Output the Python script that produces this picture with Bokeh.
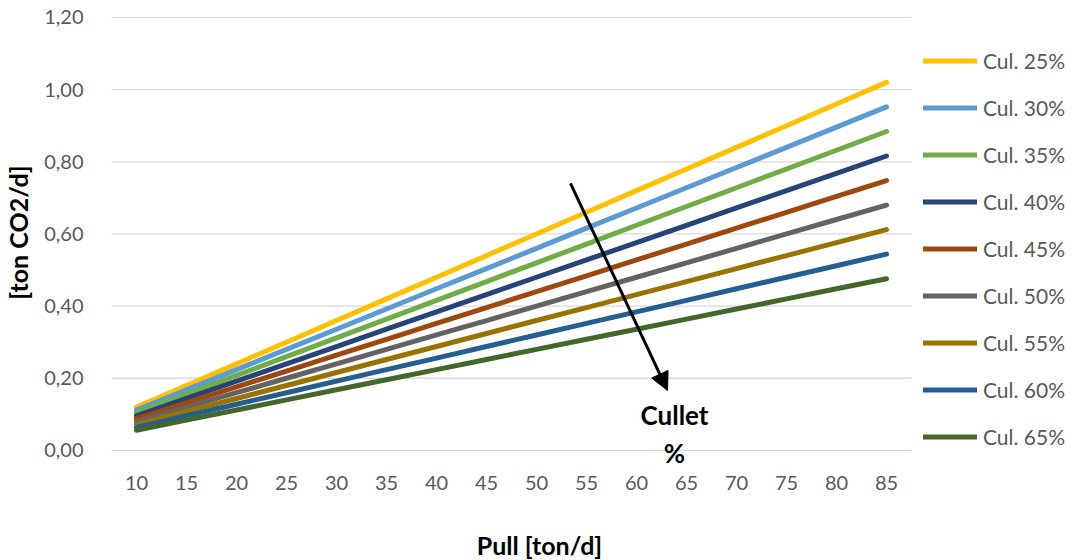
from bokeh.plotting import figure
from bokeh.layouts import column
from bokeh.models import (Range1d, FixedTicker, Legend, LegendItem, Arrow, NormalHead, Label)
from bokeh.embed import file_html
from bokeh.resources import INLINE

pull = [10, 15, 20, 25, 30, 35, 40, 45, 50, 55, 60, 65, 70, 75, 80, 85]

cul_25 = [0.120, 0.180, 0.240, 0.300, 0.360, 0.420, 0.480, 0.540, 0.600, 0.660, 0.720, 0.780, 0.840, 0.900, 0.960, 1.020]
cul_30 = [0.112, 0.168, 0.224, 0.280, 0.336, 0.392, 0.448, 0.504, 0.560, 0.616, 0.672, 0.728, 0.784, 0.840, 0.896, 0.952]
cul_35 = [0.104, 0.156, 0.208, 0.260, 0.312, 0.364, 0.416, 0.468, 0.520, 0.572, 0.624, 0.676, 0.728, 0.780, 0.832, 0.884]
cul_40 = [0.096, 0.144, 0.192, 0.240, 0.288, 0.336, 0.384, 0.432, 0.480, 0.528, 0.576, 0.624, 0.672, 0.720, 0.768, 0.816]
cul_45 = [0.088, 0.132, 0.176, 0.220, 0.264, 0.308, 0.352, 0.396, 0.440, 0.484, 0.528, 0.572, 0.616, 0.660, 0.704, 0.748]
cul_50 = [0.080, 0.120, 0.160, 0.200, 0.240, 0.280, 0.320, 0.360, 0.400, 0.440, 0.480, 0.520, 0.560, 0.600, 0.640, 0.680]
cul_55 = [0.072, 0.108, 0.144, 0.180, 0.216, 0.252, 0.288, 0.324, 0.360, 0.396, 0.432, 0.468, 0.504, 0.540, 0.576, 0.612]
cul_60 = [0.064, 0.096, 0.128, 0.160, 0.192, 0.224, 0.256, 0.288, 0.320, 0.352, 0.384, 0.416, 0.448, 0.480, 0.512, 0.544]
cul_65 = [0.056, 0.084, 0.112, 0.140, 0.168, 0.196, 0.224, 0.252, 0.280, 0.308, 0.336, 0.364, 0.392, 0.420, 0.448, 0.476]

series_names = ["Cul. 25%", "Cul. 30%", "Cul. 35%", "Cul. 40%", "Cul. 45%",
                "Cul. 50%", "Cul. 55%", "Cul. 60%", "Cul. 65%"]
series_values = [cul_25, cul_30, cul_35, cul_40, cul_45, cul_50, cul_55, cul_60, cul_65]
series_colors = ["#FFC000", "#5B9BD5", "#70AD47", "#264478", "#9E480E",
                 "#636363", "#997300", "#255E91", "#43682B"]

y_ticks = [0.0, 0.2, 0.4, 0.6, 0.8, 1.0, 1.2]
y_tick_labels = ["0,00", "0,20", "0,40", "0,60", "0,80", "1,00", "1,20"]

x_title = "Pull [ton/d]"
y_title = "[ton CO2/d]"

FONT = "Lato"
GREY = "#595959"

# plot area of the chart spans 7.5..87.5 on x; frame extended to the right to host the legend
X_LO, X_HI = 7.5, 87.5

p = figure(frame_width=964, frame_height=464, output_backend="svg", toolbar_location=None,
           x_range=Range1d(X_LO, 103.9), y_range=Range1d(-0.039, 1.247),
           min_border_left=109, min_border_right=0, min_border_top=0, min_border_bottom=30)
p.outline_line_color = None
p.background_fill_color = "white"
p.border_fill_color = "white"

# horizontal gridlines limited to the plot area
p.segment(x0=[X_LO] * len(y_ticks), x1=[X_HI] * len(y_ticks), y0=y_ticks, y1=y_ticks,
          line_color="#D9D9D9", line_width=1.3)

items = []
for name, vals, col in zip(series_names, series_values, series_colors):
    r = p.line(pull, vals, line_color=col, line_width=5, line_cap="round", line_join="round")
    items.append(LegendItem(label=name, renderers=[r]))

# axes
p.xaxis.ticker = FixedTicker(ticks=pull)
p.yaxis.ticker = FixedTicker(ticks=y_ticks)
p.yaxis.major_label_overrides = {t: l for t, l in zip(y_ticks, y_tick_labels)}
for ax in (p.xaxis, p.yaxis):
    ax.major_tick_line_color = None
    ax.minor_tick_line_color = None
    ax.major_label_text_font = FONT
    ax.major_label_text_font_size = "20px"
    ax.major_label_text_color = GREY
    ax.axis_label_text_font = FONT
    ax.axis_label_text_font_style = "bold"
    ax.axis_label_text_font_size = "25px"
    ax.axis_label_text_color = "black"
p.yaxis.axis_line_color = None
p.xaxis.axis_line_color = None
p.xaxis.major_label_standoff = 5
p.yaxis.major_label_standoff = 22
p.yaxis.axis_label = y_title
p.yaxis.axis_label_standoff = 8

p.xgrid.grid_line_color = None
p.ygrid.grid_line_color = None

legend = Legend(items=items, location=(812, 15), orientation="vertical",
                padding=0, margin=0, spacing=22, glyph_width=54, glyph_height=25,
                label_height=25, label_standoff=6,
                label_text_font=FONT, label_text_font_size="21px", label_text_color=GREY,
                border_line_color=None, background_fill_alpha=0)
p.add_layout(legend, "center")

# annotation arrow
p.add_layout(Arrow(end=NormalHead(size=18, fill_color="black", line_color="black"),
                   x_start=53.4, y_start=0.74, x_end=63.1, y_end=0.166,
                   line_color="black", line_width=3))
p.add_layout(Label(x=63.8, y=0.097, text="Cullet", text_font=FONT, text_font_style="bold",
                   text_font_size="26px", text_align="center", text_baseline="middle",
                   text_color="black"))
p.add_layout(Label(x=63.8, y=-0.008, text="%", text_font=FONT, text_font_style="bold",
                   text_font_size="26px", text_align="center", text_baseline="middle",
                   text_color="black"))

# strip below the chart carrying the x-axis title (centred like the original chart)
p2 = figure(frame_width=964, frame_height=66, output_backend="svg", toolbar_location=None,
            x_range=p.x_range, y_range=Range1d(0, 1),
            min_border_left=109, min_border_right=0, min_border_top=0, min_border_bottom=0)
p2.xaxis.visible = False
p2.yaxis.visible = False
p2.xgrid.grid_line_color = None
p2.ygrid.grid_line_color = None
p2.outline_line_color = None
p2.add_layout(Label(x=50.3, y=0.23, text=x_title, text_font=FONT, text_font_style="bold",
                    text_font_size="25px", text_align="center", text_baseline="middle",
                    text_color="black"))

layout = column(p, p2, spacing=0)
open("out.html", "w").write(file_html(layout, INLINE))
